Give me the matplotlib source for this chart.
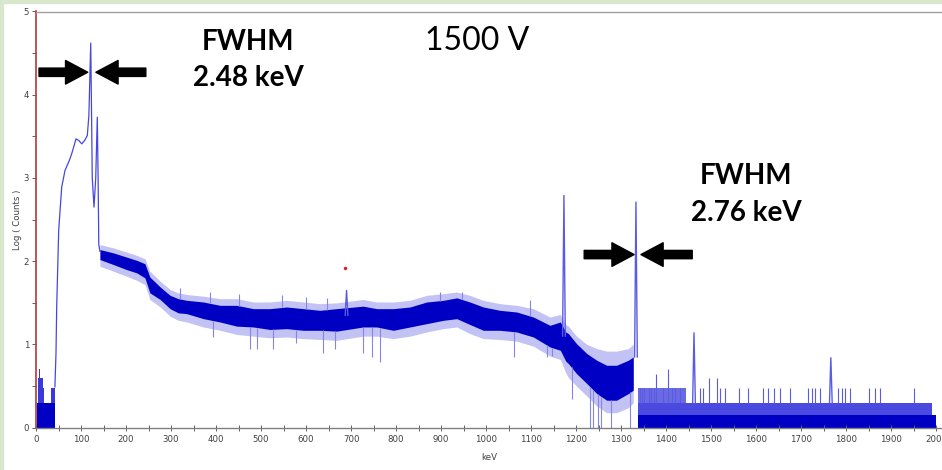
import numpy as np
import matplotlib
matplotlib.use("Agg")
import matplotlib.pyplot as plt
from matplotlib.patches import FancyArrowPatch, Rectangle

# ---------------- data ----------------
# low-energy noise region (keV, upper level of log counts)
low_kev = [2, 5, 7, 9, 12, 15, 18, 22, 26, 30, 34, 37, 40, 42]
low_hi = [0.30, 0.60, 0.70, 0.60, 0.60, 0.48, 0.30, 0.30, 0.30, 0.30, 0.48, 0.48, 0.48, 0.48]

# smooth part of the spectrum incl. the 122 / 136 keV peaks
smooth_kev = [42, 44.4, 46, 50.4, 57.1, 64.4, 74, 79.3, 88.9, 95, 101.6, 108, 114, 117.5,
              121.6, 123.8, 125, 128.9, 132.7, 136.2, 138, 139.5, 142]
smooth_val = [0.49, 0.89, 1.45, 2.37, 2.89, 3.09, 3.21, 3.29, 3.47, 3.45, 3.41, 3.45, 3.51, 3.75,
              4.62, 3.60, 3.00, 2.65, 3.00, 3.73, 3.00, 2.20, 2.12]

# noisy continuum: dense core band and faint halo
cont_kev = [142, 172, 201, 224, 242, 253, 276, 298, 316, 335, 372, 409, 446, 483, 520, 557,
            594, 631, 668, 727, 757, 794, 831, 868, 905, 935, 964, 994, 1031, 1068, 1105,
            1142, 1165, 1177, 1183, 1201, 1224, 1246, 1268, 1290, 1316, 1327]
core_hi = [2.14, 2.10, 2.05, 2.01, 1.97, 1.81, 1.69, 1.59, 1.55, 1.53, 1.51, 1.47, 1.47, 1.43,
           1.43, 1.45, 1.43, 1.41, 1.43, 1.46, 1.43, 1.43, 1.45, 1.51, 1.53, 1.56, 1.51, 1.45,
           1.41, 1.39, 1.33, 1.23, 1.27, 1.15, 1.13, 1.01, 0.89, 0.81, 0.75, 0.75, 0.81, 0.85]
core_lo = [2.02, 1.96, 1.90, 1.86, 1.80, 1.62, 1.54, 1.43, 1.38, 1.37, 1.31, 1.27, 1.22, 1.21,
           1.18, 1.19, 1.17, 1.17, 1.16, 1.21, 1.21, 1.17, 1.21, 1.25, 1.29, 1.31, 1.24, 1.17,
           1.17, 1.15, 1.09, 0.97, 0.93, 0.80, 0.77, 0.65, 0.53, 0.41, 0.33, 0.33, 0.41, 0.45]
halo_hi = [2.20, 2.16, 2.11, 2.07, 2.03, 1.88, 1.76, 1.66, 1.62, 1.60, 1.58, 1.55, 1.55, 1.51,
           1.51, 1.53, 1.51, 1.49, 1.50, 1.54, 1.51, 1.51, 1.53, 1.59, 1.61, 1.63, 1.59, 1.53,
           1.49, 1.47, 1.43, 1.33, 1.36, 1.24, 1.22, 1.10, 1.00, 0.95, 0.92, 0.92, 0.95, 1.00]
halo_lo = [1.94, 1.88, 1.82, 1.77, 1.72, 1.54, 1.45, 1.34, 1.29, 1.27, 1.21, 1.17, 1.12, 1.10,
           1.08, 1.09, 1.07, 1.06, 1.05, 1.10, 1.10, 1.07, 1.10, 1.15, 1.19, 1.21, 1.13, 1.07,
           1.06, 1.04, 0.98, 0.86, 0.82, 0.66, 0.60, 0.50, 0.38, 0.26, 0.18, 0.18, 0.24, 0.30]

# isolated noise spikes in the continuum (keV, value)
up_kev = [319, 387, 450, 546, 601, 646, 898, 946, 1098]
up_val = [1.68, 1.63, 1.61, 1.59, 1.57, 1.56, 1.63, 1.63, 1.53]
down_kev = [394, 476, 492, 527, 578, 638, 664, 726, 746, 764, 1061, 1135, 1146,
            1190, 1231, 1238, 1249, 1256, 1277, 1320]
down_val = [1.09, 0.95, 0.95, 0.95, 1.02, 0.90, 0.95, 0.90, 0.85, 0.79, 0.85, 0.85, 0.86,
            0.35, 0.0, 0.0, 0.0, 0.0, 0.0, 0.0]

# photopeaks (keV, top, base)
peak_kev = [690, 1173, 1333, 1462, 1766]
peak_top = [1.65, 2.79, 2.71, 1.14, 0.84]
peak_base = [1.35, 1.10, 0.85, 0.30, 0.30]

# quantised high-energy region
quant_start, quant_end = 1338, 2000
level_1, level_2, level_3 = 0.15, 0.30, 0.48
dense_end = 1445
hi_spike_kev = [1341, 1346, 1351, 1361, 1366, 1372, 1378, 1394, 1405, 1413, 1420, 1431, 1476,
                1483, 1496, 1513, 1520, 1531, 1561, 1583, 1616, 1627, 1639, 1653, 1676, 1716,
                1724, 1731, 1742, 1783, 1790, 1798, 1809, 1850, 1864, 1876, 1950]
hi_spike_val = [0.48, 0.48, 0.48, 0.48, 0.48, 0.48, 0.65, 0.48, 0.70, 0.48, 0.48, 0.48, 0.48,
                0.48, 0.60, 0.60, 0.48, 0.48, 0.48, 0.48, 0.48, 0.48, 0.48, 0.48, 0.48, 0.48,
                0.48, 0.48, 0.48, 0.48, 0.48, 0.48, 0.48, 0.48, 0.48, 0.48, 0.48]

marker_kev = [687]
marker_val = [1.92]

x_ticks = list(range(0, 2001, 100))
y_ticks = [0, 1, 2, 3, 4, 5]

# ---------------- figure ----------------
W, H = 942, 470
fig = plt.figure(figsize=(W / 100, H / 100), dpi=100)
fig.patch.set_facecolor("white")
fig.patches.append(Rectangle((0, 1 - 3 / H), 1, 3 / H, transform=fig.transFigure,
                             color="#d9e8cc", zorder=-1))
fig.patches.append(Rectangle((0, 0), 2.5 / W, 1, transform=fig.transFigure,
                             color="#d9e8cc", zorder=-1))

ax = fig.add_axes([36 / W, (H - 427.7) / H, (W - 36) / W, (427.7 - 11.5) / H])
ax.set_xlim(0, 2013)
ax.set_ylim(0, 5)

dark = "#0000c4"
mid = "#3a3adc"
light = "#8484ea"

# low-energy noise
ax.fill_between(low_kev, 0, low_hi, step="post", color=mid, lw=0)
ax.fill_between(low_kev, 0, [min(v, 0.3) for v in low_hi], step="post", color=dark, lw=0)

# continuum
ax.fill_between(cont_kev, halo_lo, halo_hi, color="#c2c2f4", lw=0)
ax.fill_between(cont_kev, core_lo, core_hi, color=dark, lw=0)
ck = np.array(cont_kev, float)
ax.vlines(up_kev, np.interp(up_kev, ck, core_hi), up_val, color=light, lw=0.8)
ax.vlines(down_kev, down_val, np.interp(down_kev, ck, core_lo), color=light, lw=0.8)

# smooth part
ax.plot(smooth_kev, smooth_val, color="#4646e2", lw=0.9)

# quantised region
ax.fill_between([quant_start, quant_end], 0, level_1, color=dark, lw=0)
ax.fill_between([quant_start, quant_end - 10], level_1, level_2, color="#4a4ae0", lw=0)
ax.fill_between([quant_start, dense_end], level_2, level_3, color="#6a6ae4", lw=0)
ax.vlines(hi_spike_kev, level_2, hi_spike_val, color="#5a5ae2", lw=0.8)

# peaks
hw = 3.0
for k, t, b in zip(peak_kev, peak_top, peak_base):
    ax.plot([k - hw, k, k + hw], [b, t, b], color="#5a5ae6", lw=1.0)

ax.plot(marker_kev, marker_val, "o", color="#e02020", ms=2.5, mec="none")

# axes styling
ax.spines["right"].set_visible(False)
ax.spines["left"].set_color("#b03a3a")
ax.spines["left"].set_linewidth(1.2)
ax.spines["top"].set_color("#a0a0a0")
ax.spines["top"].set_linewidth(1.0)
ax.spines["bottom"].set_color("#808080")
ax.spines["bottom"].set_linewidth(1.0)

ax.set_xticks(x_ticks)
ax.set_xticks(list(range(50, 2001, 100)), minor=True)
ax.set_yticks(y_ticks)
ax.set_yticks([0.5, 1.5, 2.5, 3.5, 4.5], minor=True)
ax.tick_params(axis="x", which="both", direction="inout", length=4, width=0.7,
               color="#606060", labelsize=6.2, labelcolor="#404040", pad=3)
ax.tick_params(axis="y", which="both", direction="out", length=3, width=0.7,
               color="#606060", labelsize=6.2, labelcolor="#404040", pad=2)

fig.text(489 / W, 1 - 457 / H, "keV", ha="center", va="center", fontsize=6.2, color="#404040")
fig.text(17 / W, 1 - 220 / H, "Log ( Counts )", ha="center", va="center", rotation=90,
         fontsize=6.2, color="#404040")

# annotations
bold = dict(family="Lato", fontweight="bold", fontsize=20, color="black", ha="center",
            va="center")
fig.text(248 / W, 1 - 42 / H, "FWHM", **bold)
fig.text(248 / W, 1 - 78 / H, "2.48 keV", **bold)
fig.text(746 / W, 1 - 176 / H, "FWHM", **bold)
fig.text(746 / W, 1 - 213 / H, "2.76 keV", **bold)
fig.text(477 / W, 1 - 41 / H, "1500 V", family="Lato", fontsize=23, color="black",
         ha="center", va="center")

arrow_style = "simple,head_length=16,head_width=17,tail_width=6"
arrows = [((6.7, 4.27), (115, 4.27)), ((244, 4.27), (133, 4.27)),
          ((1218, 2.08), (1329, 2.08)), ((1458, 2.08), (1344, 2.08))]
for a, b in arrows:
    ax.add_patch(FancyArrowPatch(a, b, arrowstyle=arrow_style, mutation_scale=1,
                                 color="black", shrinkA=0, shrinkB=0, clip_on=False))

fig.savefig("out.png", dpi=100)
